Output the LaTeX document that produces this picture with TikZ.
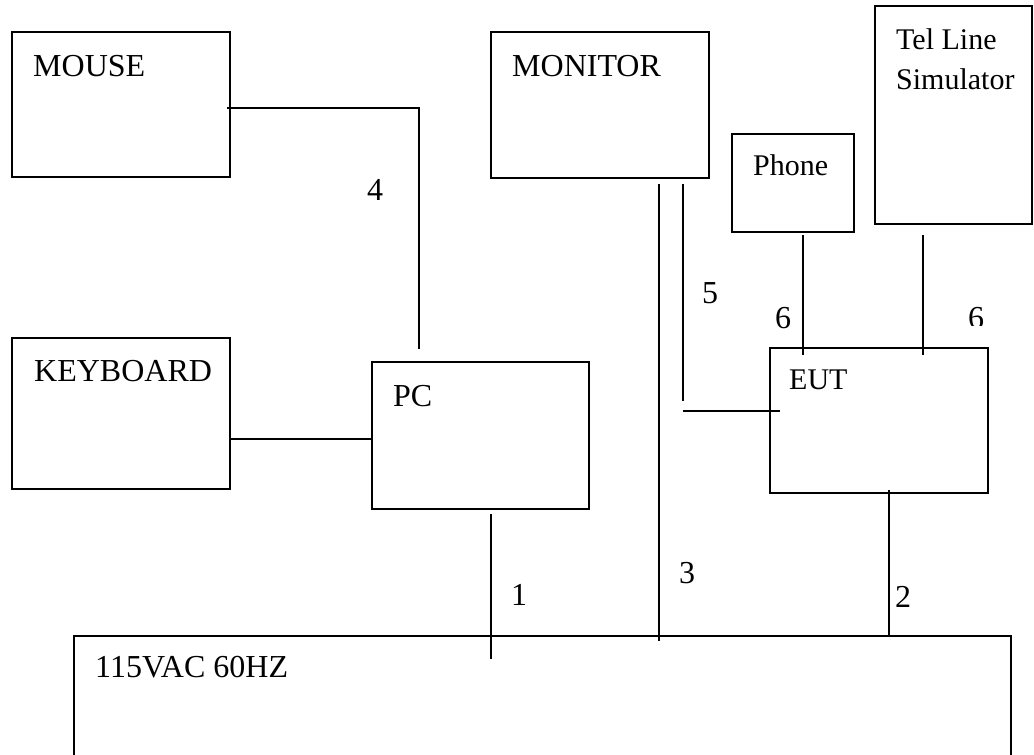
\documentclass[tikz,border=0pt]{standalone}
\usepackage{fontspec}
\setmainfont{Liberation Serif}
\begin{document}
\begin{tikzpicture}[x=1pt,y=-1pt,
  box/.style={draw, line width=2pt, rectangle, inner sep=0pt, anchor=north west},
  lbl/.style={anchor=base west, inner sep=0pt, font=\fontsize{32}{40}\selectfont, align=left},
  slbl/.style={lbl, font=\fontsize{30}{40}\selectfont},
  wire/.style={line width=1.3pt}]
\clip (0,0) rectangle (1034,755);
% boxes
\node[box, minimum width=218pt, minimum height=145pt] (mouse) at (11,31) {};
\node[box, minimum width=218pt, minimum height=151pt] (keyboard) at (11,337) {};
\node[box, minimum width=217pt, minimum height=147pt] (pc) at (371,361) {};
\node[box, minimum width=218pt, minimum height=146pt] (monitor) at (490,31) {};
\node[box, minimum width=122pt, minimum height=98pt] (phone) at (731,133) {};
\node[box, minimum width=157pt, minimum height=218pt] (tel) at (874,5) {};
\node[box, minimum width=218pt, minimum height=145pt] (eut) at (769,347) {};
\node[box, minimum width=937pt, minimum height=220pt] (power) at (73,635) {};
% box texts
\node[lbl] (tmouse) at (33,76) {MOUSE};
\node[lbl] (tkeyboard) at (34,381) {KEYBOARD};
\node[lbl] (tpc) at (393,406) {PC};
\node[lbl] (tmonitor) at (512,76) {MONITOR};
\node[slbl] (tphone) at (753,175) {Phone};
\node[slbl] (ttel1) at (896,49) {Tel Line};
\node[slbl] (ttel2) at (896,89) {Simulator};
\node[slbl] (teut) at (789,389) {EUT};
\node[lbl] (tpower) at (95,677) {115VAC 60HZ};
% free ends of connectors
\coordinate (m4a) at (227,108);
\coordinate (m4b) at (419,349);
\coordinate (kb) at (300,439);
\coordinate (c5a) at (683,184);
\coordinate (c5b) at (683,401);
\coordinate (c5c) at (683,411);
\coordinate (c5d) at (780,411);
\coordinate (c3a) at (659,184);
\coordinate (c3b) at (659,641);
\coordinate (c6a) at (803,235);
\coordinate (c6b) at (803,355);
\coordinate (c6c) at (923,235);
\coordinate (c6d) at (923,355);
\coordinate (c1a) at (491,514);
\coordinate (c1b) at (491,659);
\coordinate (c2a) at (889,490);
% connectors
\draw[wire] (m4a) -| (m4b);
\draw[wire] (keyboard.east |- kb) -- (pc.west |- kb);
\draw[wire] (c5a) -- (c5b);
\draw[wire] (c5c) -- (c5d);
\draw[wire] (c3a) -- (c3b);
\draw[wire] (c6a) -- (c6b);
\draw[wire] (c6c) -- (c6d);
\draw[wire] (c1a) -- (c1b);
\draw[wire] (c2a) -- (power.north -| c2a);
% cable numbers
\node[lbl] (n4) at (367,200) {4};
\node[lbl] (n5) at (702,303) {5};
\node[lbl] (n6a) at (775,328) {6};
\begin{scope}
\clip (940,290) rectangle (1000,325);
\node[lbl] (n6b) at (968,328) {6};
\end{scope}
\node[lbl] (n1) at (511,605) {1};
\node[lbl] (n3) at (679,583) {3};
\node[lbl] (n2) at (895,607) {2};
\end{tikzpicture}
\end{document}
